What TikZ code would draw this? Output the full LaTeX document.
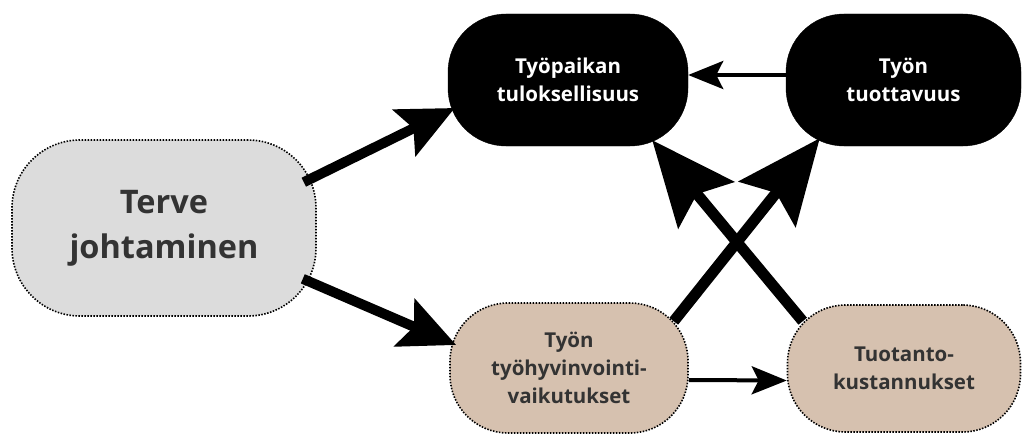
\documentclass[tikz,border=0pt]{standalone}
\usepackage{fontspec}
\setmainfont{Open Sans}
\usetikzlibrary{arrows.meta,calc}
\definecolor{grayfill}{HTML}{DCDCDC}
\definecolor{tanfill}{HTML}{D6C1AF}
\definecolor{darktext}{HTML}{333333}
\tikzset{
  darkbox/.style={fill=black, draw=black, text=white, rounded corners=58pt, inner sep=0pt,
     font=\fontsize{20.5}{28}\selectfont\bfseries},
  lightbox/.style={fill=tanfill, draw=black, line width=1.6pt, dash pattern=on 1.5pt off 1.5pt, inner sep=0pt,
     text=darktext, rounded corners=58pt, font=\fontsize{20.5}{28}\selectfont\bfseries},
  bigbox/.style={fill=grayfill, draw=black, line width=1.6pt, dash pattern=on 1.5pt off 1.5pt, inner sep=0pt,
     text=darktext, rounded corners=68pt, font=\fontsize{32.5}{45}\selectfont\bfseries},
  thickarrow/.style={line width=10pt, -{Stealth[length=56pt,width=51pt,inset=10pt]}},
  hugearrow/.style={line width=11pt, -{Stealth[length=84pt,width=72pt,inset=14pt]}},
  thinarrow/.style={line width=4pt, -{Stealth[length=35pt,width=28pt,inset=7pt]}},
}
\begin{document}
\begin{tikzpicture}[x=1pt,y=-1pt]
\useasboundingbox (0,0) rectangle (1022,436);
\node[bigbox, minimum width=304pt, minimum height=176pt, align=center] (terve) at (164,228) {Terve\\johtaminen};
\node[darkbox, minimum width=240pt, minimum height=132pt, align=center] (tp) at (568,80) {Työpaikan\\tuloksellisuus};
\node[darkbox, minimum width=235pt, minimum height=132pt, align=center] (tt) at (903.5,80) {Työn\\tuottavuus};
\node[lightbox, minimum width=238pt, minimum height=130pt, align=center] (th) at (569,368) {Työn\\työhyvinvointi-\\vaikutukset};
\node[lightbox, minimum width=233pt, minimum height=127pt, align=center] (tk) at (904,368.5) {Tuotanto-\\kustannukset};

\draw[thickarrow] ($(terve.north east)+(-13,43)$) -- ($(tp.west)+(7,28)$);
\draw[thickarrow] ($(terve.south east)+(-14,-38)$) -- ($(th.west)+(7,-23)$);
\draw[hugearrow] ($(th.north east)+(-15,19)$) -- ($(tt.south west)+(34,-8)$);
\draw[hugearrow] ($(tk.north west)+(16,17)$) -- ($(tp.south east)+(-36,-6)$);
\draw[thinarrow] ($(th.east)+(0,12)$) -- ($(tk.west)+(0,12)$);
\draw[thinarrow] ($(tt.west)+(0,-5)$) -- ($(tp.east)+(0,-5)$);
\end{tikzpicture}
\end{document}
